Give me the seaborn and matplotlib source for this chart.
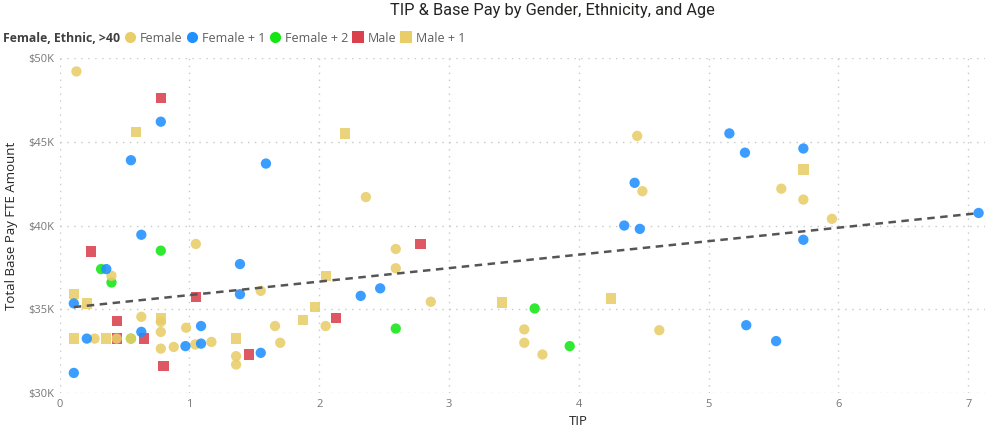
import pandas as pd
import numpy as np
import matplotlib
matplotlib.use("Agg")
import matplotlib.pyplot as plt
from matplotlib.lines import Line2D
from matplotlib.ticker import FuncFormatter
import seaborn as sns

sns.set_theme(style="white")
plt.rcParams['font.family'] = ['Open Sans', 'DejaVu Sans']

# values: TIP and base pay (in $K) per group
female_tip = [0.13, 2.36, 4.45, 4.49, 5.56, 5.73, 5.95, 4.62,
              1.05, 0.40, 1.55, 0.63, 0.78, 0.975, 0.78, 1.66,
              0.27, 0.44, 0.55, 0.78, 0.88, 1.045, 1.17, 1.36, 1.36, 1.70,
              2.59, 2.59, 2.86, 2.05, 3.58, 3.58, 3.72]
female_pay = [49.2, 41.7, 45.35, 42.05, 42.2, 41.55, 40.4, 33.75,
              38.9, 37.0, 36.1, 34.55, 34.25, 33.9, 33.65, 34.0,
              33.25, 33.25, 33.25, 32.65, 32.75, 32.9, 33.05, 32.2, 31.7, 33.0,
              38.6, 37.45, 35.45, 34.0, 33.8, 33.0, 32.3]

female1_tip = [0.78, 0.55, 1.59, 4.35, 5.16, 5.28, 5.73, 4.43, 7.08, 4.47, 5.73, 5.29, 5.52,
               0.63, 0.36, 1.39, 0.11, 1.39, 1.09, 0.63, 0.21, 0.97, 1.09, 1.55, 0.11,
               2.47, 2.32]
female1_pay = [46.2, 43.9, 43.7, 40.0, 45.5, 44.35, 44.6, 42.55, 40.75, 39.8, 39.15, 34.05, 33.1,
               39.45, 37.4, 37.7, 35.35, 35.9, 34.0, 33.65, 33.25, 32.8, 32.95, 32.4, 31.2,
               36.25, 35.8]

female2_tip = [0.78, 0.32, 0.40, 0.55, 3.66, 2.59, 3.93]
female2_pay = [38.5, 37.4, 36.6, 33.25, 35.05, 33.85, 32.8]

male_tip = [0.78, 0.24, 1.05, 0.44, 0.44, 0.65, 1.46, 0.80, 2.78, 2.13]
male_pay = [47.6, 38.45, 35.75, 34.3, 33.25, 33.25, 32.3, 31.6, 38.9, 34.5]

male1_tip = [0.59, 2.20, 5.73, 4.25, 0.11, 0.21, 0.78, 0.11, 0.36, 1.36, 2.05, 1.97, 1.875, 3.41]
male1_pay = [45.6, 45.5, 43.35, 35.65, 35.9, 35.35, 34.45, 33.25, 33.25, 33.25, 37.0, 35.15, 34.35, 35.4]

groups = ["Female", "Female + 1", "Female + 2", "Male", "Male + 1"]
colors = {"Female": "#E8CD68", "Female + 1": "#1E90FF", "Female + 2": "#14E614",
          "Male": "#D9414D", "Male + 1": "#E8CD68"}
markers = {"Female": "o", "Female + 1": "o", "Female + 2": "o", "Male": "s", "Male + 1": "s"}

# drawing order: squares underneath, then circles
parts = [("Male", male_tip, male_pay), ("Male + 1", male1_tip, male1_pay),
         ("Female + 2", female2_tip, female2_pay), ("Female", female_tip, female_pay),
         ("Female + 1", female1_tip, female1_pay)]
df = pd.concat([pd.DataFrame({"tip": t, "pay": p, "group": g}) for g, t, p in parts],
               ignore_index=True)

fig = plt.figure(figsize=(9.99, 4.30), dpi=100)
ax = fig.add_axes([0.0596, 0.086, 0.9265, 0.779])

sns.scatterplot(data=df, x="tip", y="pay", hue="group", style="group",
                palette=colors, markers=markers, s=55, linewidth=0, alpha=0.88,
                legend=False, ax=ax, clip_on=False, zorder=3)
sns.regplot(data=df, x="tip", y="pay", scatter=False, ci=None, truncate=True, ax=ax,
            line_kws=dict(color="#555555", lw=1.8, ls=(0, (3, 2.2)), zorder=4))

ax.set_xlim(0, 7.13)
ax.set_ylim(30, 50)
ax.set_xticks(range(0, 8))
ax.set_yticks([30, 35, 40, 45, 50])
ax.yaxis.set_major_formatter(FuncFormatter(lambda v, p: f"${v:.0f}K"))
ax.grid(True, color="#C8C8C8", ls=(0, (1, 4)), lw=1)
for sp in ax.spines.values():
    sp.set_visible(False)
ax.tick_params(axis="both", labelsize=8, colors="#777777", length=0, pad=4)

ax.set_xlabel("TIP", fontsize=9.5, color="#252423")
ax.set_ylabel("Total Base Pay FTE Amount", fontsize=9.5, color="#252423")
ax.xaxis.set_label_coords((578 - 59.5) / 925.5, -0.066)
ax.yaxis.set_label_coords(-0.045, 0.5)

fig.text(552 / 999, 1 - 10 / 430, "TIP & Base Pay by Gender, Ethnicity, and Age",
         ha="center", va="center", fontsize=11.8, color="#252423", family=["Roboto", "DejaVu Sans"])

fig.text(3 / 999, 1 - 38 / 430, "Female, Ethnic, >40", ha="left", va="center",
         fontsize=8.8, fontweight="bold", color="#404040")
handles = [Line2D([], [], ls="", marker=markers[g], color=colors[g], markersize=8,
                  markeredgewidth=0) for g in groups]
fig.legend(handles, groups, loc="center left", bbox_to_anchor=(125 / 999, 1 - 38 / 430),
           ncol=5, frameon=False, fontsize=9, labelcolor="#605E5C", handlelength=0.8,
           handletextpad=0.4, columnspacing=0.35, borderpad=0, borderaxespad=0)

fig.savefig("out.png", dpi=100)
